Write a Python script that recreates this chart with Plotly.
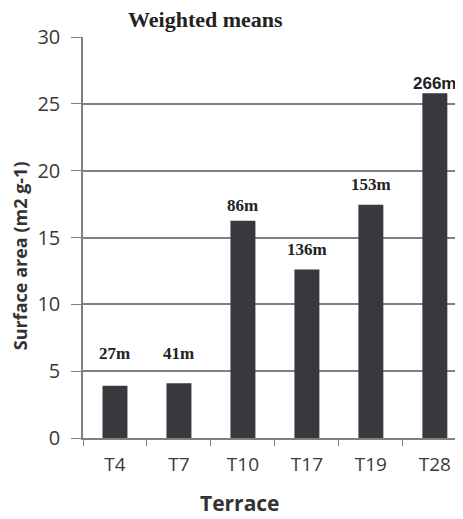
import plotly.graph_objects as go

# values
terraces = ['T4', 'T7', 'T10', 'T17', 'T19', 'T28']
surface_area = [3.9, 4.1, 16.25, 12.6, 17.45, 25.8]
age_labels = ['27m', '41m', '86m', '136m', '153m', '266m']
label_y = [6.3, 6.3, 17.4, 14.1, 19.0, 26.5]

# the page puts the figure 8px in from the top-left, so size it to fit the window
W, H = 455, 511
PLOT_L, PLOT_T, PLOT_B = 83, 37, 437.7   # wanted plot edges on the page
plot_w = 463 - PLOT_L
plot_h = PLOT_B - PLOT_T


def px(xp):
    return (xp - PLOT_L) / plot_w


def py(yp):
    return (PLOT_B - yp) / plot_h


fig = go.Figure()

fig.add_trace(go.Bar(x=terraces, y=surface_area,
                     width=0.39,
                     marker=dict(color='#38393d', line=dict(width=0)),
                     showlegend=False))

annots = []
# labels above the bars (the last one is in a sans font in the original)
for t, lab, ly in zip(terraces, age_labels, label_y):
    fam = 'Liberation Sans' if lab == '266m' else 'Liberation Serif'
    annots.append(dict(x=t, y=ly, text='<b>%s</b>' % lab, showarrow=False,
                       font=dict(family=fam, size=17, color='#222222'),
                       xanchor='center', yanchor='middle'))

annots.append(dict(text='<b>Weighted means</b>', x=px(205), y=py(20), xref='paper', yref='paper',
                   showarrow=False, font=dict(family='Liberation Serif', size=22, color='#222'),
                   xanchor='center', yanchor='middle'))
annots.append(dict(text='<b>Terrace</b>', x=px(240), y=py(503), xref='paper', yref='paper',
                   showarrow=False, font=dict(family='Open Sans', size=21, color='#333'),
                   xanchor='center', yanchor='middle'))
annots.append(dict(text='<b>Surface area (m2 g-1)</b>', x=px(20), y=py(256),
                   xref='paper', yref='paper', textangle=-90, showarrow=False,
                   font=dict(family='Open Sans', size=18, color='#333'),
                   xanchor='center', yanchor='middle'))

fig.update_layout(
    width=W, height=H,
    margin=dict(l=PLOT_L - 8, r=0, t=PLOT_T - 8, b=H - (PLOT_B - 8)),
    plot_bgcolor='white', paper_bgcolor='white',
    font=dict(family='Open Sans', color='#333333'),
    annotations=annots,
)

fig.update_xaxes(range=[-0.5, 5.44], showline=True, linecolor='#808080', linewidth=1.5,
                 ticks='outside', tickson='boundaries', ticklen=6, tickcolor='#808080',
                 tickfont=dict(family='Open Sans', size=19, color='#3a3a3a'), ticklabelstandoff=8,
                 showgrid=False, fixedrange=True, automargin=False)
fig.update_yaxes(range=[0, 30], dtick=5, showline=True, linecolor='#808080', linewidth=1.5,
                 ticks='outside', ticklen=10, tickcolor='#808080',
                 tickfont=dict(family='Open Sans', size=20, color='#3a3a3a'), ticklabelstandoff=7,
                 showgrid=True, gridcolor='#808080', gridwidth=1.5, zeroline=False,
                 automargin=False)

fig.write_html('out.html')
